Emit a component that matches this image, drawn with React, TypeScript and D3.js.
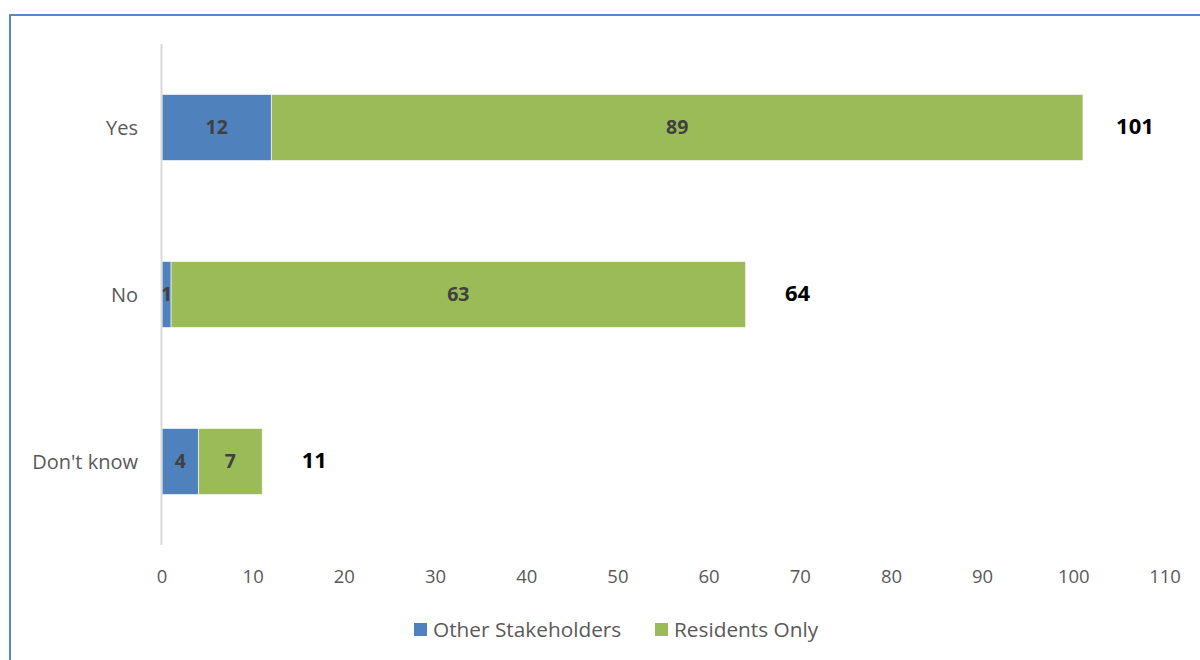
import React from "react";
import * as d3 from "d3";

const categories = ["Yes", "No", "Don't know"];
const otherStakeholders = [12, 1, 4];
const residentsOnly = [89, 63, 7];
const totals = [101, 64, 11];
const xTicks = [0, 10, 20, 30, 40, 50, 60, 70, 80, 90, 100, 110];
const seriesNames = ["Other Stakeholders", "Residents Only"];
const seriesColors = ["#4F81BD", "#9BBB59"];

const W = 1200;
const H = 660;
const FONT = "'Open Sans', sans-serif";

export default function App() {
  const x = d3.scaleLinear().domain([0, 110]).range([162, 1165]);
  const y = d3
    .scaleBand<string>()
    .domain(categories)
    .range([44, 545])
    .paddingInner(0.605)
    .paddingOuter(0.3025);

  const stackData = categories.map((c, i) => ({
    cat: c,
    other: otherStakeholders[i],
    res: residentsOnly[i],
  }));
  const stack = d3.stack<any>().keys(["other", "res"])(stackData);

  return (
    <svg
      width={W}
      height={H}
      style={{ position: "fixed", left: 0, top: 0, background: "#fff" }}
      fontFamily={FONT}
    >
      <rect x={0} y={0} width={W} height={H} fill="#fff" />
      {/* chart border */}
      <path d={`M10,${H + 5} L10,15 L${W + 5},15`} fill="none" stroke="#5B87C5" strokeWidth={2} />

      {/* bars */}
      {stack.map((layer, li) =>
        layer.map((d, i) => {
          const x0 = x(d[0]);
          const x1 = x(d[1]);
          const yy = y(categories[i])!;
          const bw = y.bandwidth();
          const val = d[1] - d[0];
          return (
            <g key={`${li}-${i}`}>
              <rect
                x={x0}
                y={yy}
                width={x1 - x0}
                height={bw}
                fill={seriesColors[li]}
                stroke="#ffffff"
                strokeOpacity={0.6}
                strokeWidth={1}
              />
              <text
                x={(x0 + x1) / 2}
                y={yy + bw / 2}
                dy="0.35em"
                textAnchor="middle"
                fontSize={19.5}
                fontWeight="bold"
                fill="#404040"
              >
                {val}
              </text>
            </g>
          );
        })
      )}

      {/* vertical axis line */}
      <line x1={161.5} x2={161.5} y1={44} y2={545} stroke="#D9D9D9" strokeWidth={2} />

      {/* category labels */}
      {categories.map((c) => (
        <text
          key={c}
          x={138}
          y={y(c)! + y.bandwidth() / 2}
          dy="0.35em"
          textAnchor="end"
          fontSize={20}
          fill="#595959"
        >
          {c}
        </text>
      ))}

      {/* totals */}
      {categories.map((c, i) => (
        <text
          key={"t" + c}
          x={x(totals[i]) + 52}
          y={y(c)! + y.bandwidth() / 2 - 1}
          dy="0.35em"
          textAnchor="middle"
          fontSize={22}
          fontWeight="bold"
          fill="#000"
        >
          {totals[i]}
        </text>
      ))}

      {/* x tick labels */}
      {xTicks.map((t) => (
        <text
          key={"x" + t}
          x={x(t)}
          y={577}
          dy="0.35em"
          textAnchor="middle"
          fontSize={18.5}
          fill="#595959"
        >
          {t}
        </text>
      ))}

      {/* legend */}
      {seriesNames.map((s, i) => {
        const lx = i === 0 ? 414 : 655;
        return (
          <g key={s}>
            <rect x={lx} y={623} width={13} height={13} fill={seriesColors[i]} />
            <text x={lx + 19} y={630} dy="0.35em" fontSize={20.8} fill="#595959">
              {s}
            </text>
          </g>
        );
      })}
    </svg>
  );
}
